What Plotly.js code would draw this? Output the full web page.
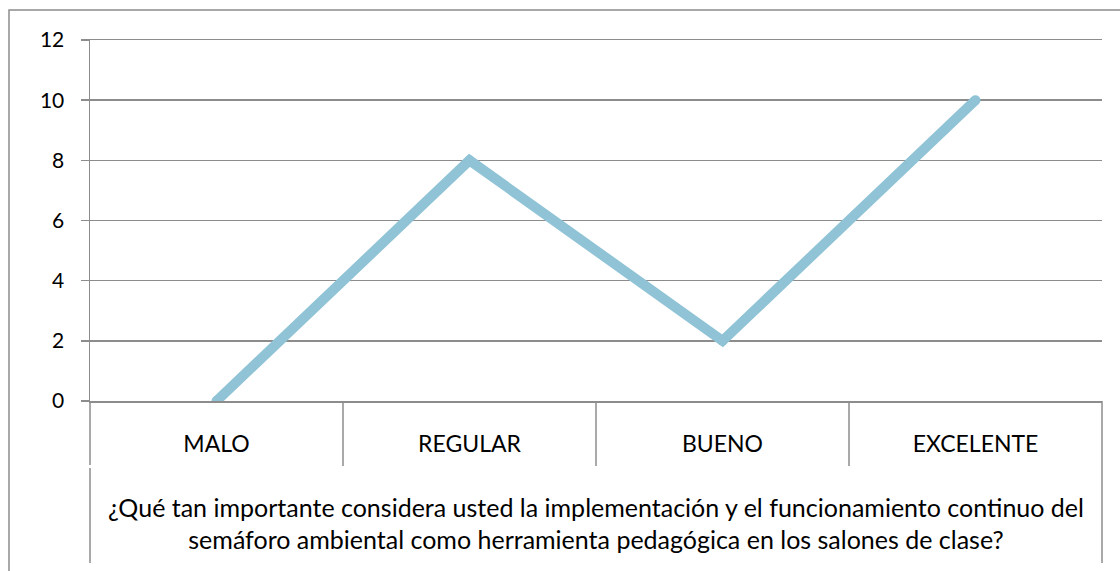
<!DOCTYPE html>
<html>
<head>
<meta charset="utf-8">
<script src="https://cdn.plot.ly/plotly-3.0.1.min.js"></script>
<style>html,body{margin:0;padding:0;background:#fff;}#chart{width:1120px;height:571px;}</style>
</head>
<body>
<div id="chart"></div>
<script>
const categories = ["MALO", "REGULAR", "BUENO", "EXCELENTE"];
const values = [0, 8, 2, 10];
const yTicks = [0, 2, 4, 6, 8, 10, 12];
const axisTitle = "¿Qué tan importante considera usted la implementación y el funcionamiento continuo del<br>semáforo ambiental como herramienta pedagógica en los salones de clase?";

const FONT = "Lato, 'Open Sans', sans-serif";
const GRID = "#8c8c8c";
const LINE = "#8FC3D5";

const trace = {
  type: "scatter",
  mode: "lines+markers",
  x: categories,
  y: values,
  line: {color: LINE, width: 10},
  marker: {color: LINE, size: 10},
  cliponaxis: true,
  hoverinfo: "skip"
};

function pxY(p) { return (401 - p) / 361; }
function pxX(p) { return (p - 90) / 1012; }

const lineStyle = {color: GRID, width: 1.5};
const shapes = [
  {type: "rect", xref: "paper", yref: "paper", x0: pxX(9), x1: pxX(1130), y0: pxY(580), y1: pxY(10), line: {color: GRID, width: 1.5}},
  {type: "line", xref: "paper", yref: "paper", x0: 0, x1: 0, y0: pxY(401), y1: pxY(465), line: lineStyle},
  {type: "line", xref: "paper", yref: "paper", x0: 0, x1: 0, y0: pxY(468), y1: pxY(563), line: lineStyle},
  {type: "line", xref: "paper", yref: "paper", x0: 1, x1: 1, y0: pxY(401), y1: pxY(563), line: lineStyle}
];
for (let i = 0; i < categories.length - 1; i++) {
  shapes.push({type: "line", xref: "x", yref: "paper", x0: i + 0.5, x1: i + 0.5, y0: pxY(401), y1: pxY(466), line: lineStyle});
}

const layout = {
  width: 1120,
  height: 571,
  margin: {l: 90, r: 18, t: 40, b: 170},
  paper_bgcolor: "#fff",
  plot_bgcolor: "#fff",
  showlegend: false,
  font: {family: FONT, size: 20, color: "#000"},
  xaxis: {
    type: "category",
    range: [-0.5, 3.5],
    showgrid: false,
    zeroline: false,
    showline: true,
    mirror: true,
    linecolor: GRID,
    linewidth: 1.5,
    ticks: "",
    ticklabelstandoff: 22,
    tickfont: {family: FONT, size: 23, color: "#000"},
    title: {text: axisTitle, font: {family: FONT, size: 25, color: "#000"}, standoff: 43},
    fixedrange: true
  },
  yaxis: {
    range: [0, 12],
    tickvals: yTicks,
    ticktext: yTicks.map(String),
    showgrid: true,
    gridcolor: GRID,
    gridwidth: 1.5,
    zeroline: false,
    showline: true,
    linecolor: GRID,
    linewidth: 1.5,
    ticks: "outside",
    ticklen: 8,
    tickcolor: GRID,
    tickwidth: 1.5,
    ticklabelstandoff: 12,
    tickfont: {family: FONT, size: 21, color: "#000"},
    fixedrange: true
  },
  shapes: shapes
};

Plotly.newPlot("chart", [trace], layout, {displayModeBar: false, staticPlot: true});
</script>
</body>
</html>
